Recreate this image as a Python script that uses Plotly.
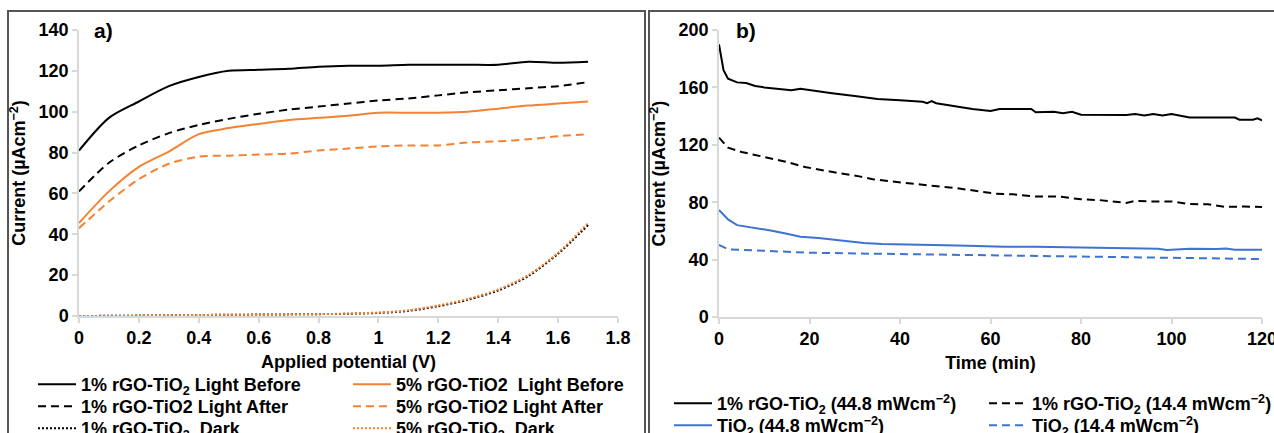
import plotly.graph_objects as go

# ---------- Panel a data ----------
potential_v = [0.0, 0.1, 0.2, 0.3, 0.4, 0.5, 0.6, 0.7, 0.8, 0.9, 1.0, 1.1, 1.2, 1.3, 1.4, 1.5, 1.6, 1.7]
rgo1_light_before = [81, 97, 105, 112.5, 117, 120, 120.5, 121, 122, 122.5, 122.5, 123, 123, 123, 123, 124.5, 124, 124.5]
rgo1_light_after = [61, 75, 83.5, 89.5, 93.5, 96.5, 99, 101, 102.5, 104, 105.5, 106.5, 108, 109.5, 110.5, 111.5, 112.5, 114.5]
rgo5_light_before = [45.5, 61, 73, 80.5, 89, 92, 94, 96, 97, 98, 99.5, 99.5, 99.5, 100, 101.5, 103, 104, 105]
rgo5_light_after = [43, 56, 67, 74.5, 78, 78.5, 79, 79.5, 81, 82, 83, 83.5, 83.5, 85, 85.5, 86.5, 88, 89]
rgo1_dark = [0, 0.1, 0.2, 0.3, 0.5, 0.6, 0.7, 0.8, 0.9, 1.1, 1.5, 2.5, 4.8, 8, 12.5, 19.5, 30.5, 44.5]
rgo5_dark = [0, 0.1, 0.2, 0.3, 0.5, 0.6, 0.7, 0.8, 0.9, 1.2, 1.7, 2.8, 5.2, 8.4, 13, 20, 31, 45.5]

# ---------- Panel b data ----------
t_rgo_high = [0, 1, 2, 4, 6, 8, 10, 14, 16, 18, 20, 25, 30, 35, 40, 45, 46, 47, 48, 50, 52, 56,
              60, 62, 66, 69, 70, 74, 76, 78, 80, 85, 90, 92, 94, 96, 98, 100, 102, 104,
              110, 114, 115, 118, 119, 120]
i_rgo_high = [190, 172, 166, 163.5, 163, 161, 160, 159, 158, 159, 158, 156, 154, 152, 151, 150, 149, 150.5, 149, 148, 146.5, 145,
              143.5, 145, 145, 145, 142.7, 143, 142, 143, 141, 141, 140.8, 141.5, 140.5, 141.5, 140.5, 141.5, 140.5, 139,
              139, 139, 137.5, 137.5, 138.5, 137]

t_rgo_low = [0, 2, 5, 8, 11, 15, 19, 23, 27, 31, 34, 38, 42, 47, 52, 56, 61, 65, 70, 75, 80, 84, 87, 90, 92, 95, 100, 104, 108, 112, 116, 120]
i_rgo_low = [125, 118, 115, 113, 110.5, 108, 104.5, 102, 100, 98, 96, 94.5, 93, 91.5, 90, 88, 86, 85.5, 84, 84, 82, 81.5, 80.5, 79.5, 81, 80.5, 80.5, 78.7, 78.5, 76.7, 77, 76.7]

t_tio2_high = [0, 1, 2, 4, 6, 9, 12, 15, 18, 22, 27, 32, 36, 40, 45, 50, 55, 63, 70, 81, 90, 97, 99, 104, 110, 112, 114, 120]
i_tio2_high = [74.6, 71, 68, 64, 63, 61.8, 60, 58, 56, 55, 53, 51.5, 50.9, 50.5, 50.2, 50, 49.7, 49, 49, 48.3, 48, 47.5, 46.7, 47.5, 47.3, 47.8, 46.9, 46.8]

t_tio2_low = [0, 1, 2, 5, 10, 20, 30, 40, 50, 60, 70, 80, 90, 100, 110, 120]
i_tio2_low = [50.2, 48.5, 47.2, 46.8, 46.2, 44.8, 44.3, 43.9, 43.6, 43.2, 42.8, 42.4, 42, 41.6, 41, 40.4]

BLACK = "#000000"
ORANGE = "#F58232"
BLUE = "#3E73D0"
FAMILY = "Liberation Sans, Arial, sans-serif"
TICK_FONT = dict(family=FAMILY, size=18, color="#000000", weight="bold")
TITLE_FONT = dict(family=FAMILY, size=18, color="#000000", weight="bold")
LEG_FONT = dict(family=FAMILY, size=18, color="#000000", weight="bold")

W, H = 1274, 433

def px(x):
    return x / W

def py(y):
    return 1 - y / H

fig = go.Figure()

spl = dict(shape="spline", smoothing=0.8)
# Panel a traces (one legend per row, two columns each)
fig.add_trace(go.Scatter(x=potential_v, y=rgo1_light_before, mode="lines", name="1% rGO-TiO<sub>2</sub> Light Before",
                         line=dict(color=BLACK, width=2, **spl), xaxis="x", yaxis="y", legend="legend"))
fig.add_trace(go.Scatter(x=potential_v, y=rgo5_light_before, mode="lines", name="5% rGO-TiO2  Light Before",
                         line=dict(color=ORANGE, width=2, **spl), xaxis="x", yaxis="y", legend="legend"))
fig.add_trace(go.Scatter(x=potential_v, y=rgo1_light_after, mode="lines", name="1% rGO-TiO2 Light After",
                         line=dict(color=BLACK, width=2, dash="8px,5px", **spl), xaxis="x", yaxis="y", legend="legend2"))
fig.add_trace(go.Scatter(x=potential_v, y=rgo5_light_after, mode="lines", name="5% rGO-TiO2 Light After",
                         line=dict(color=ORANGE, width=2, dash="8px,5px", **spl), xaxis="x", yaxis="y", legend="legend2"))
fig.add_trace(go.Scatter(x=potential_v, y=rgo1_dark, mode="lines", name="1% rGO-TiO<sub>2</sub>  Dark",
                         line=dict(color=BLACK, width=2, dash="2px,2px", **spl), xaxis="x", yaxis="y", legend="legend3"))
fig.add_trace(go.Scatter(x=potential_v, y=rgo5_dark, mode="lines", name="5% rGO-TiO<sub>2</sub>  Dark",
                         line=dict(color=ORANGE, width=2, dash="2px,2px", **spl), xaxis="x", yaxis="y", legend="legend3"))

# Panel b traces
fig.add_trace(go.Scatter(x=t_rgo_high, y=i_rgo_high, mode="lines", name="1% rGO-TiO<sub>2</sub> (44.8 mWcm<sup>−2</sup>)",
                         line=dict(color=BLACK, width=2), xaxis="x2", yaxis="y2", legend="legend4"))
fig.add_trace(go.Scatter(x=t_rgo_low, y=i_rgo_low, mode="lines", name="1% rGO-TiO<sub>2</sub> (14.4 mWcm<sup>−2</sup>)",
                         line=dict(color=BLACK, width=2, dash="8px,5px"), xaxis="x2", yaxis="y2", legend="legend4"))
fig.add_trace(go.Scatter(x=t_tio2_high, y=i_tio2_high, mode="lines", name="TiO<sub>2</sub> (44.8 mWcm<sup>−2</sup>)",
                         line=dict(color=BLUE, width=2), xaxis="x2", yaxis="y2", legend="legend5"))
fig.add_trace(go.Scatter(x=t_tio2_low, y=i_tio2_low, mode="lines", name="TiO<sub>2</sub> (14.4 mWcm<sup>−2</sup>)",
                         line=dict(color=BLUE, width=2, dash="8px,5px"), xaxis="x2", yaxis="y2", legend="legend5"))

axis_common = dict(showline=True, linecolor="#d9d9d9", linewidth=1.5, ticks="outside", tickcolor="#d9d9d9",
                   ticklen=5, tickwidth=1.5, showgrid=False, zeroline=False, tickfont=TICK_FONT,
                   title_font=TITLE_FONT, ticklabeloverflow="allow")

def leg(x, y):
    return dict(orientation="h", x=px(x), xanchor="left", y=py(y), yanchor="top", font=LEG_FONT,
                bgcolor="rgba(0,0,0,0)", itemwidth=38, tracegroupgap=0, traceorder="normal",
                entrywidth=262, entrywidthmode="pixels")

fig.update_layout(
    width=W, height=H,
    margin=dict(l=0, r=0, t=0, b=0, autoexpand=False),
    paper_bgcolor="white", plot_bgcolor="white",
    font=TICK_FONT,
    xaxis=dict(domain=[px(79), px(618)], range=[0, 1.8], dtick=0.2, anchor="y",
               title=dict(text="Applied potential (V)", standoff=8), **axis_common),
    yaxis=dict(domain=[py(316), py(30)], range=[0, 140], dtick=20, anchor="x",
               title=dict(text="Current (µAcm<sup>−2</sup>)", standoff=8), **axis_common),
    xaxis2=dict(domain=[px(719), px(1262)], range=[0, 120], dtick=20, anchor="y2",
                title=dict(text="Time (min)", standoff=8), **axis_common),
    yaxis2=dict(domain=[py(317), py(30)], range=[0, 200], dtick=40, anchor="x2",
                title=dict(text="Current (µAcm<sup>−2</sup>)", standoff=8), **axis_common),
    legend=leg(33, 366),
    legend2=leg(33, 388),
    legend3=leg(33, 410),
    legend4=leg(669, 385),
    legend5=leg(669, 407),
    showlegend=True,
    shapes=[
        dict(type="rect", xref="paper", yref="paper", x0=px(8), x1=px(645), y0=-0.05, y1=py(11),
             line=dict(color="#555555", width=2), layer="below"),
        dict(type="rect", xref="paper", yref="paper", x0=px(649), x1=1.05, y0=-0.05, y1=py(11),
             line=dict(color="#555555", width=2), layer="below"),
    ],
    annotations=[
        dict(text="a)", x=px(92), y=py(31), xref="paper", yref="paper", xanchor="left", yanchor="middle",
             showarrow=False, font=dict(family=FAMILY, size=21, color="#000", weight="bold")),
        dict(text="b)", x=px(734), y=py(31), xref="paper", yref="paper", xanchor="left", yanchor="middle",
             showarrow=False, font=dict(family=FAMILY, size=21, color="#000", weight="bold")),
    ],
)

fig.write_html("out.html")
